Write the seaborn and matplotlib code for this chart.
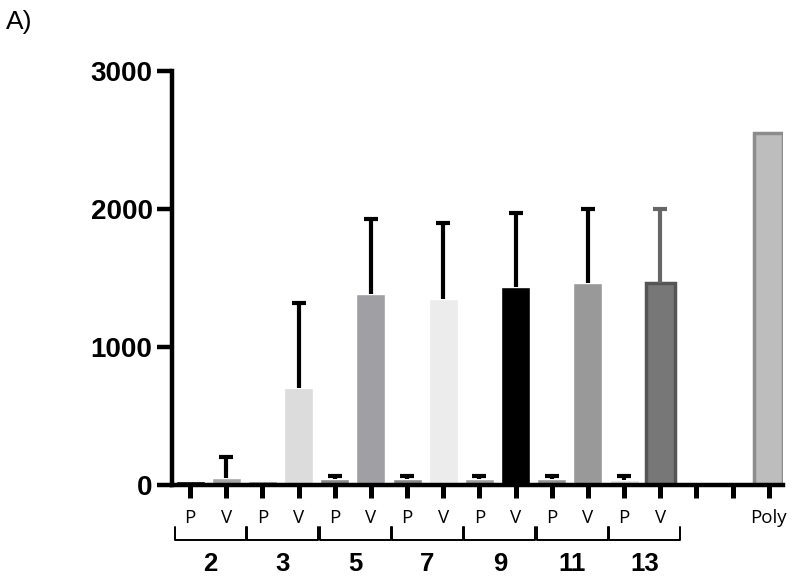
import matplotlib
matplotlib.use('Agg')
import matplotlib.pyplot as plt
import matplotlib.transforms as mtransforms
import seaborn as sns
import numpy as np

# bar order: P/V pairs for each group, two unlabelled controls, Poly
bar_ids = ['2P', '2V', '3P', '3V', '5P', '5V', '7P', '7V', '9P', '9V',
           '11P', '11V', '13P', '13V', 'c1', 'c2', 'Poly']
tick_text = ['P', 'V'] * 7 + ['', '', 'Poly']
means = [25, 50, 25, 705, 40, 1380, 40, 1345, 40, 1430, 40, 1465, 35, 1465, 15, 15, 2550]
err_up = [0, 155, 0, 615, 25, 543, 25, 549, 25, 536, 25, 530, 30, 530, 0, 0, 0]
bar_colors = ['#000000', '#a6a6a6', '#999999', '#dcdcdc', '#8a8a8a', '#a0a0a4',
              '#8a8a8a', '#ececec', '#a0a0a0', '#000000', '#959595', '#999999',
              '#e0e0e0', '#777777', '#d0d0d0', '#a8a8a8', '#bdbdbd']
groups = ['2', '3', '5', '7', '9', '11', '13']

sns.set_style('ticks')
plt.rcParams['text.color'] = 'black'
plt.rcParams['xtick.color'] = 'black'
plt.rcParams['ytick.color'] = 'black'
plt.rcParams['axes.edgecolor'] = 'black'

fig = plt.figure(figsize=(8, 5.8), dpi=100)
ax = fig.add_axes([0.215, 0.164, 0.764, 0.714])

sns.barplot(x=bar_ids, y=means, hue=bar_ids, palette=bar_colors, order=bar_ids,
            legend=False, errorbar=None, width=0.8, saturation=1, ax=ax)

# edges on the last dark bar and Poly
ax.patches[13].set_edgecolor('#555555')
ax.patches[13].set_linewidth(2.5)
ax.patches[16].set_edgecolor('#8c8c8c')
ax.patches[16].set_linewidth(2.5)


def upper_errors(idx, color):
    eb = ax.errorbar(xs[idx], m[idx], yerr=[np.zeros(len(idx)), e[idx]], fmt='none',
                     ecolor=color, elinewidth=3, capsize=5, capthick=3, zorder=3)
    # keep only the top caps
    eb[1][0].remove()


# one-sided (upper) error bars
xs = np.arange(len(bar_ids))
m = np.array(means, dtype=float)
e = np.array(err_up, dtype=float)
upper_errors(np.where((e > 0) & (xs != 13))[0], 'black')
upper_errors(np.array([13]), '#666666')

ax.set_ylim(0, 3000)
ax.set_xlim(-0.5, 16.4)
ax.set_yticks([0, 1000, 2000, 3000])
ax.set_yticklabels(['0', '1000', '2000', '3000'], fontsize=20, fontweight='bold',
                   family='Liberation Sans')
ax.set_xticks(xs)
ax.set_xticklabels(tick_text, fontsize=13.5, family='Open Sans')
ax.tick_params(axis='y', length=11, width=3.2, pad=3, color='black', labelcolor='black')
ax.tick_params(axis='x', length=9.5, width=3.6, pad=8, color='black', labelcolor='black')
ax.set_xlabel('')
ax.set_ylabel('')

sns.despine(ax=ax)
for side in ['left', 'bottom']:
    ax.spines[side].set_linewidth(3.2)
    ax.spines[side].set_color('black')

# brackets under each P/V pair with the group number
trans = mtransforms.blended_transform_factory(ax.transData, ax.transAxes)
y_top, y_bot = -0.101, -0.133
for k, g in enumerate(groups):
    x0, x1 = 2 * k - 0.42, 2 * k + 1.55
    ax.plot([x0, x0, x1, x1], [y_top, y_bot, y_bot, y_top], color='black',
            lw=1.4, transform=trans, clip_on=False)
    ax.text((x0 + x1) / 2, -0.19, g, transform=trans, ha='center', va='center',
            fontsize=18.5, fontweight='bold', family='Liberation Sans', color='black')

fig.text(0.008, 1 - 29 / 580, 'A)', fontsize=19, family='Liberation Sans',
         va='baseline', color='black')

fig.savefig('out.png', dpi=100)
